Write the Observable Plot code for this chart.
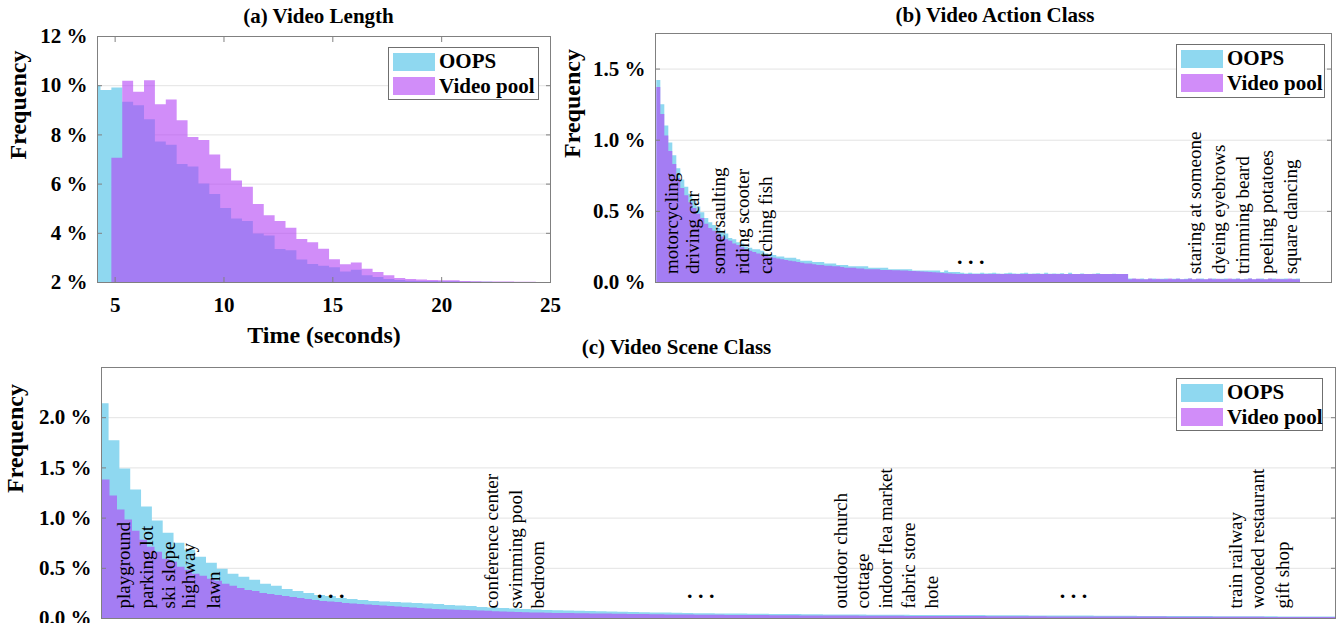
<!DOCTYPE html>
<html><head><meta charset="utf-8">
<script src="https://cdn.jsdelivr.net/npm/d3@7"></script>
<script src="https://cdn.jsdelivr.net/npm/@observablehq/plot@0.6"></script>
<style>
html,body{margin:0;padding:0;background:#fff;}
#root{position:relative;width:1338px;height:623px;overflow:hidden;background:#fff;font-family:"Liberation Serif","Times New Roman",serif;}
#root svg{position:absolute;overflow:visible;}
.legend{position:absolute;border:1px solid #6f6f6f;background:#fff;box-sizing:border-box;}
.sw{position:absolute;width:42px;height:18px;}
.lt{position:absolute;font-weight:bold;font-size:21px;line-height:1;white-space:nowrap;color:#000;}
</style></head>
<body><div id="root"></div>
<script>
// ---------------- DATA ----------------
const seriesNames = ["OOPS", "Video pool"];

// (a) Video length histogram, bins of 0.5 s starting at 3.85 s (values in %)
const lengthTicksX = [5, 10, 15, 20, 25];
const lengthTicksY = [2, 4, 6, 8, 10, 12];
const lengthOops = [10.0, 9.80, 9.91, 9.33, 9.18, 8.62, 7.71, 7.58, 6.80, 6.70,
  6.00, 5.58, 5.01, 4.58, 4.48, 3.97, 3.89, 3.34, 3.29, 2.91,
  2.73, 2.66, 2.60, 2.43, 2.50, 2.27, 2.20, 2.12, 2.08, 2.05,
  2.04, 2.04, 2.03, 2.03, 2.01, 2.01, 2.01, 2.0, 2.0, 2.0, 2.0];
const lengthPool = [0, 0, 7.05, 10.18, 9.73, 10.2, 9.23, 9.42, 8.58, 7.89,
  7.77, 7.18, 6.61, 6.13, 5.87, 5.17, 4.71, 4.48, 4.21, 3.75,
  3.62, 3.35, 2.92, 2.72, 2.79, 2.54, 2.41, 2.27, 2.16, 2.12,
  2.10, 2.08, 2.07, 2.07, 2.04, 2.03, 2.02, 2.02, 2.02, 2.01, 2.01];

// (b) Action class frequency (%) sorted, one value per rank bin
const actionTicksY = [0, 0.5, 1.0, 1.5];
const actionOops = [
  1.42,1.25,1.10,0.98,0.89,0.80,0.72,0.67,0.62,0.57,
  0.53,0.49,0.45,0.42,0.40,0.38,0.36,0.34,0.31,0.30,
  0.28,0.27,0.25,0.24,0.23,0.23,0.22,0.20,0.19,0.19,
  0.18,0.18,0.17,0.17,0.17,0.16,0.15,0.15,0.15,0.14,
  0.14,0.14,0.13,0.13,0.13,0.12,0.12,0.12,0.11,0.11,
  0.11,0.11,0.11,0.10,0.10,0.10,0.10,0.10,0.09,0.09,
  0.09,0.09,0.09,0.09,0.08,0.08,0.08,0.08,0.08,0.08,
  0.08,0.07,0.08,0.07,0.07,0.07,0.065,0.06,0.065,0.06,
  0.06,0.065,0.06,0.062,0.065,0.06,0.058,0.062,0.065,0.06,
  0.058,0.062,0.065,0.058,0.06,0.062,0.058,0.065,0.058,0.06,
  0.058,0.062,0.056,0.065,0.056,0.056,0.06,0.056,0.056,0.058,
  0.062,0.056,0.056,0.056,0.058,0.056,0.056,0.056,0.024,0.022,
  0.020,0.024,0.020,0.022,0.024,0.020,0.022,0.024,0.020,0.022,
  0.024,0.020,0.022,0.024,0.020,0.022,0.024,0.020,0.022,0.024,
  0.020,0.022,0.024,0.020,0.022,0.024,0.020,0.022,0.024,0.020,
  0.022,0.024,0.020,0.022,0.024,0.020,0.022,0.024,0.020,0.022,
  0.024];
const actionPool = [
  1.37,1.18,1.03,0.92,0.83,0.73,0.66,0.61,0.56,0.52,
  0.48,0.45,0.41,0.38,0.36,0.34,0.32,0.30,0.29,0.27,
  0.26,0.245,0.23,0.22,0.21,0.20,0.19,0.185,0.175,0.17,
  0.165,0.16,0.155,0.15,0.145,0.14,0.135,0.13,0.13,0.125,
  0.12,0.12,0.115,0.115,0.11,0.11,0.105,0.10,0.10,0.10,
  0.095,0.095,0.09,0.09,0.09,0.09,0.085,0.085,0.085,0.082,
  0.082,0.08,0.08,0.078,0.077,0.075,0.074,0.072,0.07,0.068,
  0.066,0.064,0.062,0.06,0.058,0.056,0.056,0.056,0.056,0.056,
  0.056,0.056,0.056,0.056,0.056,0.056,0.056,0.056,0.056,0.056,
  0.056,0.056,0.056,0.056,0.056,0.056,0.056,0.056,0.056,0.056,
  0.056,0.056,0.056,0.056,0.056,0.056,0.056,0.056,0.056,0.056,
  0.056,0.056,0.056,0.056,0.056,0.056,0.056,0.056,0.020,0.024,
  0.022,0.020,0.020,0.024,0.020,0.022,0.020,0.020,0.024,0.020,
  0.022,0.020,0.020,0.024,0.020,0.022,0.020,0.020,0.024,0.020,
  0.022,0.020,0.020,0.024,0.020,0.022,0.020,0.020,0.024,0.020,
  0.022,0.020,0.020,0.024,0.020,0.022,0.020,0.020,0.024,0.020,
  0.020];
const actionLabels = ["motorcycling", "driving car", "somersaulting", "riding scooter", "catching fish",
  "staring at someone", "dyeing eyebrows", "trimming beard", "peeling potatoes", "square dancing"];
const actionLabelRank = [5.25, 10.5, 17.0, 23.0, 28.7, 136.0, 142.0, 148.0, 154.0, 160.0];
const actionGapRank = [78.5];

// (c) Scene class frequency (%) sorted
const sceneTicksY = [0, 0.5, 1.0, 1.5, 2.0];
const sceneOops = [
  2.14,1.77,1.49,1.28,1.11,0.97,0.85,0.75,0.68,0.61,
  0.55,0.49,0.44,0.41,0.38,0.34,0.32,0.29,0.27,0.25,
  0.23,0.22,0.20,0.19,0.18,0.17,0.165,0.16,0.155,0.15,
  0.145,0.14,0.13,0.125,0.12,0.11,0.105,0.10,0.095,0.09,
  0.085,0.08,0.078,0.075,0.072,0.07,0.067,0.065,0.062,0.06,
  0.058,0.056,0.054,0.052,0.05,0.048,0.047,0.046,0.045,0.044,
  0.043,0.042,0.041,0.040,0.039,0.038,0.037,0.036,0.035,0.034,
  0.034,0.033,0.033,0.032,0.032,0.031,0.031,0.030,0.030,0.030,
  0.029,0.029,0.028,0.028,0.027,0.027,0.026,0.026,0.025,0.025,
  0.024,0.024,0.023,0.023,0.022,0.022,0.021,0.021,0.020,0.020,
  0.020,0.019,0.019,0.018,0.018,0.018,0.017,0.017,0.017,0.016,
  0.016,0.016,0.015,0.015,0.015];
const scenePool = [
  1.59,1.38,1.22,1.08,0.98,0.87,0.78,0.71,0.66,0.59,
  0.56,0.51,0.48,0.44,0.42,0.39,0.37,0.34,0.32,0.30,
  0.28,0.27,0.25,0.24,0.23,0.22,0.21,0.20,0.19,0.18,
  0.17,0.165,0.16,0.15,0.145,0.14,0.135,0.13,0.125,0.12,
  0.115,0.11,0.105,0.10,0.095,0.09,0.088,0.085,0.082,0.08,
  0.077,0.074,0.071,0.068,0.065,0.062,0.06,0.058,0.056,0.054,
  0.052,0.051,0.05,0.049,0.048,0.047,0.046,0.045,0.044,0.043,
  0.042,0.041,0.04,0.039,0.038,0.037,0.036,0.035,0.034,0.034,
  0.033,0.033,0.032,0.032,0.031,0.031,0.030,0.030,0.029,0.029,
  0.028,0.028,0.027,0.027,0.026,0.026,0.025,0.025,0.025,0.024,
  0.024,0.024,0.023,0.023,0.023,0.022,0.022,0.022,0.021,0.021,
  0.021,0.02,0.02,0.02,0.02,0.019,0.019,0.019,0.019,0.018,
  0.018,0.018,0.018,0.017,0.017,0.017,0.017,0.016,0.016,0.016,
  0.016,0.016,0.015,0.015,0.015,0.015,0.015,0.014,0.014,0.014,
  0.014,0.014,0.014,0.013,0.013,0.013,0.013,0.013,0.013,0.012,
  0.012,0.012,0.012,0.012,0.012,0.012,0.011,0.011,0.011,0.011,
  0.011,0.011,0.011,0.010,0.010,0.010];
const sceneLabels = ["playground", "parking lot", "ski slope", "highway", "lawn",
  "conference center", "swimming pool", "bedroom",
  "outdoor church", "cottage", "indoor flea market", "fabric store", "hote",
  "train railway", "wooded restaurant", "gift shop"];
const sceneLabelRank = [2.61, 4.73, 6.77, 8.65, 10.92, 36.6, 38.81, 40.85,
  68.83, 70.86, 72.99, 75.11, 77.24, 105.32, 107.44, 109.66];
const sceneGapRank = [21.18, 55.36, 89.8];

// ---------------- STYLE ----------------
const CYAN = "#8fd8f0", PURPLE = "#b241f5", PURPLE_ALPHA = 0.6, LEGEND_PURPLE = "#d18df9";
const FRAME = "#808080", GRID = "#e3e3e3", FONT = "Liberation Serif";

function steps(values, start, width) {
  const pts = values.map((v, i) => ({x: start + i * width, v}));
  pts.push({x: start + values.length * width, v: values[values.length - 1]});
  return pts;
}
const pct1 = d => d3.format(".1f")(d) + " %";

function yAxes(ticks, fmt) {
  return [
    Plot.axisY(ticks, {anchor: "left", tickSize: -5, tickPadding: 15, tickFormat: fmt, fontSize: 21, fontWeight: "bold", stroke: FRAME, label: null}),
    Plot.axisY(ticks, {anchor: "right", tickSize: -5, tickFormat: () => "", stroke: FRAME, label: null})
  ];
}
function textMark(str, opts) {
  return Plot.text([str], {fontFamily: FONT, fontWeight: "bold", fill: "black", ...opts});
}

const root = document.getElementById("root");
function put(svg, left, top) { svg.style.left = left + "px"; svg.style.top = top + "px"; root.appendChild(svg); }
function legend(left, top, width, height) {
  const box = document.createElement("div");
  box.className = "legend";
  Object.assign(box.style, {left: left + "px", top: top + "px", width: width + "px", height: height + "px"});
  seriesNames.forEach((name, i) => {
    const sw = document.createElement("div");
    sw.className = "sw";
    Object.assign(sw.style, {left: "4px", top: (4.5 + 24.3 * i) + "px", background: i === 0 ? CYAN : LEGEND_PURPLE});
    const t = document.createElement("div");
    t.className = "lt";
    Object.assign(t.style, {left: "50px", top: (3 + 24.5 * i) + "px"});
    t.textContent = name;
    box.append(sw, t);
  });
  root.appendChild(box);
}
const baseStyle = {fontFamily: FONT, fontSize: "21px", color: "black", background: "transparent", overflow: "visible"};

// ---------------- (a) ----------------
const plotA = Plot.plot({
  width: 570, height: 350,
  marginLeft: 97, marginRight: 20, marginTop: 36, marginBottom: 68,
  style: baseStyle,
  x: {domain: [4.19, 25], label: null},
  y: {domain: [2, 12], label: null},
  marks: [
    Plot.gridY(lengthTicksY, {stroke: GRID, strokeOpacity: 1}),
    Plot.areaY(steps(lengthOops, 3.85, 0.5), {x: "x", y: "v", curve: "step-after", fill: CYAN, clip: true}),
    Plot.areaY(steps(lengthPool, 3.85, 0.5), {x: "x", y: "v", curve: "step-after", fill: PURPLE, fillOpacity: PURPLE_ALPHA, clip: true}),
    Plot.frame({stroke: FRAME}),
    ...yAxes(lengthTicksY, d => d + " %"),
    Plot.axisX(lengthTicksX, {anchor: "bottom", tickSize: -5, tickPadding: 20, fontSize: 21, fontWeight: "bold", stroke: FRAME, label: null}),
    Plot.axisX(lengthTicksX, {anchor: "top", tickSize: -5, tickFormat: () => "", stroke: FRAME, label: null}),
    textMark("(a) Video Length", {frameAnchor: "top", dx: -5.5, dy: -13.3, lineAnchor: "bottom", fontSize: 21}),
    textMark("Frequency", {frameAnchor: "left", rotate: -90, dx: -79.5, fontSize: 24}),
    textMark("Time (seconds)", {frameAnchor: "bottom", dy: 60, lineAnchor: "bottom", fontSize: 24})
  ]
});
put(plotA, 0, 0);

// ---------------- (b) ----------------
const plotB = Plot.plot({
  width: 778, height: 300,
  marginLeft: 95, marginRight: 7, marginTop: 33, marginBottom: 18,
  style: baseStyle,
  x: {domain: [-0.33, 168.75], label: null, axis: null},
  y: {domain: [0, 1.75], label: null},
  marks: [
    Plot.gridY(actionTicksY, {stroke: GRID, strokeOpacity: 1}),
    Plot.areaY(steps(actionOops, 0, 1), {x: "x", y: "v", curve: "step-after", fill: CYAN, clip: true}),
    Plot.areaY(steps(actionPool, 0, 1), {x: "x", y: "v", curve: "step-after", fill: PURPLE, fillOpacity: PURPLE_ALPHA, clip: true}),
    Plot.frame({stroke: FRAME}),
    ...yAxes(actionTicksY, pct1),
    Plot.text(actionLabels, {x: actionLabelRank, frameAnchor: "bottom", rotate: -90, textAnchor: "start", dy: -8.5, fontSize: 19, fontFamily: FONT, fill: "black"}),
    Plot.text(actionGapRank, {x: d => d, text: () => ". . .", frameAnchor: "bottom", lineAnchor: "bottom", dy: -18.5, fontSize: 22, fontWeight: "bold", fontFamily: FONT, fill: "black"}),
    textMark("(b) Video Action Class", {frameAnchor: "top", dx: 1.5, dy: -11.3, lineAnchor: "bottom", fontSize: 21}),
    textMark("Frequency", {frameAnchor: "left", rotate: -90, dx: -83.4, fontSize: 24})
  ]
});
put(plotB, 560, 0);

// ---------------- (c) ----------------
const plotC = Plot.plot({
  width: 1338, height: 287,
  marginLeft: 101, marginRight: 3, marginTop: 31, marginBottom: 5,
  style: baseStyle,
  x: {domain: [0, 114], label: null, axis: null},
  y: {domain: [0, 2.5], label: null},
  marks: [
    Plot.gridY(sceneTicksY, {stroke: GRID, strokeOpacity: 1}),
    Plot.areaY(steps(sceneOops, -0.3, 1), {x: "x", y: "v", curve: "step-after", fill: CYAN, clip: true}),
    Plot.areaY(steps(scenePool, -0.6, 0.6927), {x: "x", y: "v", curve: "step-after", fill: PURPLE, fillOpacity: PURPLE_ALPHA, clip: true}),
    Plot.frame({stroke: FRAME}),
    ...yAxes(sceneTicksY, pct1),
    Plot.text(sceneLabels, {x: sceneLabelRank, frameAnchor: "bottom", rotate: -90, textAnchor: "start", dy: -10, fontSize: 19, fontFamily: FONT, fill: "black"}),
    Plot.text(sceneGapRank, {x: d => d, text: () => ". . .", frameAnchor: "bottom", lineAnchor: "bottom", dy: -21, fontSize: 22, fontWeight: "bold", fontFamily: FONT, fill: "black"}),
    textMark("(c) Video Scene Class", {frameAnchor: "top", dx: -42, dy: -13.7, lineAnchor: "bottom", fontSize: 21}),
    textMark("Frequency", {frameAnchor: "left", rotate: -90, dx: -86.5, fontSize: 24})
  ]
});
put(plotC, 0, 336);

legend(388, 47, 151, 53);
legend(1176, 44, 149, 54);
legend(1176, 378, 147, 53);
</script>
</body></html>
